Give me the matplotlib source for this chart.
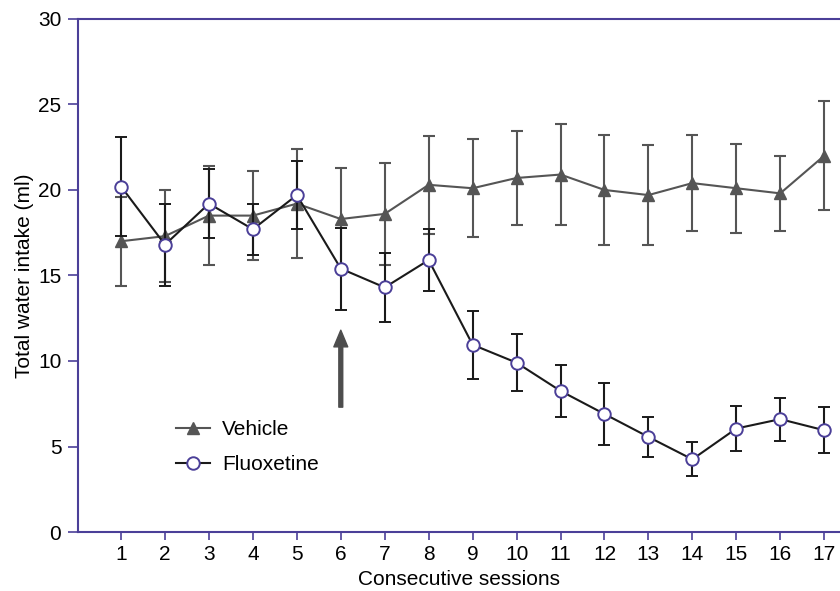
import numpy as np
import matplotlib
matplotlib.use("Agg")
import matplotlib.pyplot as plt
from matplotlib.lines import Line2D

plt.rcParams['font.family'] = ['Liberation Sans', 'DejaVu Sans']

sessions = list(range(1, 18))

vehicle_mean = [17.0, 17.3, 18.5, 18.5, 19.2, 18.3, 18.6, 20.3, 20.1, 20.7,
                20.9, 20.0, 19.7, 20.4, 20.1, 19.8, 22.0]
vehicle_err = [2.6, 2.7, 2.9, 2.6, 3.2, 3.0, 3.0, 2.85, 2.85, 2.75,
               2.95, 3.2, 2.9, 2.8, 2.6, 2.2, 3.2]

fluox_mean = [20.2, 16.8, 19.2, 17.7, 19.7, 15.4, 14.3, 15.9, 10.95, 9.9,
              8.25, 6.9, 5.56, 4.25, 6.05, 6.6, 5.95]
fluox_err = [2.9, 2.4, 2.0, 1.5, 2.0, 2.4, 2.0, 1.8, 2.0, 1.65,
             1.5, 1.8, 1.15, 1.0, 1.33, 1.25, 1.35]

spine_col = '#4b3f98'
veh_col = '#555555'
fl_col = '#1a1a1a'

fig = plt.figure(figsize=(8.4, 5.91), dpi=100)
ax = fig.add_axes([78/840, 0.0998, 1 - 78/840, 0.8682])

ax.errorbar(sessions, vehicle_mean, yerr=vehicle_err, color=veh_col, lw=1.5,
            marker='^', ms=9, mfc=veh_col, mec=veh_col,
            ecolor=veh_col, elinewidth=1.5, capsize=4.5, capthick=1.5,
            zorder=2)
ax.errorbar(sessions, fluox_mean, yerr=fluox_err, color=fl_col, lw=1.5,
            marker='o', ms=9, mfc='white', mec=spine_col, mew=1.4,
            ecolor=fl_col, elinewidth=1.5, capsize=4.5, capthick=1.5,
            zorder=3)

# treatment start arrow
ax.annotate('', xy=(6, 11.8), xytext=(6, 7.3),
            arrowprops=dict(width=2.8, headwidth=10, headlength=12,
                            color='#4d4d4d', shrink=0))

ax.set_xlim(0.02, 17.36)
ax.set_ylim(0, 30)
ax.set_xticks(sessions)
ax.set_yticks([0, 5, 10, 15, 20, 25, 30])
ax.tick_params(axis='both', labelsize=15, color=spine_col, width=1.2)
ax.tick_params(axis='y', length=7, pad=5)
ax.tick_params(axis='x', length=6, pad=3)

for s in ['left', 'bottom', 'top']:
    ax.spines[s].set_color(spine_col)
    ax.spines[s].set_linewidth(1.5)
ax.spines['right'].set_visible(False)

ax.set_xlabel('Consecutive sessions', fontsize=15, labelpad=5)
ax.set_ylabel('Total water intake (ml)', fontsize=15, labelpad=3)

handles = [
    Line2D([], [], color=veh_col, lw=1.5, marker='^', ms=9, mfc=veh_col, mec=veh_col),
    Line2D([], [], color=fl_col, lw=1.5, marker='o', ms=9, mfc='white',
           mec=spine_col, mew=1.4),
]
ax.legend(handles, ['Vehicle', 'Fluoxetine'], loc='upper left',
          bbox_to_anchor=(0.1286, 0.218), frameon=False,
          fontsize=15, handlelength=1.63, handletextpad=0.58, labelspacing=0.78,
          borderpad=0, borderaxespad=0)

fig.savefig('out.png', dpi=100)
